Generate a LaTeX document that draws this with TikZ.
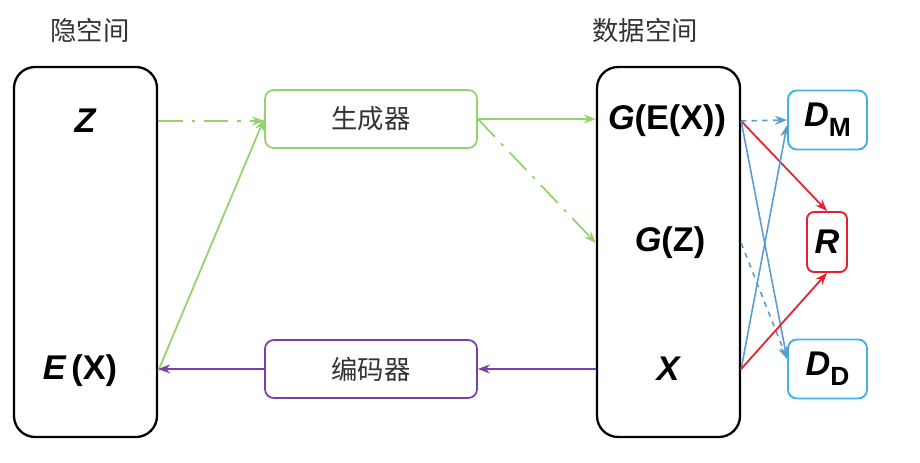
\documentclass[tikz,border=0pt]{standalone}
\usepackage{fontspec}
\setmainfont{Liberation Sans}
\newfontfamily\cjk{Noto Sans CJK SC}
\usepackage{xcolor}
\definecolor{cGreen}{HTML}{92D36E}
\definecolor{cPurple}{HTML}{7B3FA8}
\definecolor{cBlue}{HTML}{5A9BD0}
\definecolor{cCyan}{HTML}{3DB4E2}
\definecolor{cRed}{HTML}{E5212E}
\definecolor{cGray}{HTML}{333333}
\usetikzlibrary{positioning,arrows.meta,calc}
\tikzset{
  node-space/.style={draw=black,line width=1.3pt,rounded corners=12pt,
    minimum width=28.6mm,minimum height=74mm},
  node-box/.style={draw,line width=1pt,rounded corners=5pt,
    minimum height=11.6mm,minimum width=42.4mm,font=\cjk\fontsize{15}{17}\selectfont,
    text=cGray},
  node-d/.style={draw=cCyan,line width=1.1pt,rounded corners=5pt,
    minimum height=11.8mm,minimum width=15.8mm,inner sep=0pt},
  node-r/.style={draw=cRed,line width=1.1pt,rounded corners=4pt,
    minimum height=12mm,minimum width=8mm,inner sep=0pt},
  node-var/.style={font=\fontsize{19.5}{22}\selectfont\bfseries},
  node-head/.style={font=\cjk\fontsize{15}{17}\selectfont,text=cGray},
  % 绿: 生成器 / 紫: 编码器 / 蓝、红: 判别
  arrow-green/.style={-{Stealth[length=2.4mm]},line width=1pt,draw=cGreen},
  arrow-dashdot/.style={arrow-green,dash pattern=on 14pt off 5pt on 2pt off 5pt},
  arrow-purple/.style={-{Stealth[length=2.4mm]},line width=1pt,draw=cPurple},
  arrow-blue/.style={-{Stealth[length=2.4mm]},line width=0.9pt,draw=cBlue},
  arrow-red/.style={-{Stealth[length=2.4mm]},line width=1pt,draw=cRed},
}
\newcommand\ivar[1]{{\itshape #1}}
\newcommand\dsub[2]{\ivar{#1}\raisebox{-0.28em}{\fontsize{15}{15}\selectfont #2}}

\begin{document}
\begin{tikzpicture}
  \useasboundingbox (0,0) rectangle (18.4,9.24);
  % 两个空间
  \node[node-space] (latent) at (1.71,4.2) {};
  \node[node-space] (data) at (13.37,4.2) {};
  \node[node-head] (hl) at (1.8,8.64) {隐空间};
  \node[node-head] (hd) at (12.9,8.64) {数据空间};

  \node[node-var] (z) at (1.7,6.82) {\ivar{Z}};
  \node[node-var] (ex) at (1.6,1.82) {\ivar{E}\,(X)};
  \node[node-var] (gex) at (13.34,6.82) {\ivar{G}(E(X))};
  \node[node-var] (gz) at (13.4,4.38) {\ivar{G}(Z)};
  \node[node-var] (x) at (13.36,1.86) {\ivar{X}};

  \node[node-box,draw=cGreen] (gen) at (7.42,6.86) {生成器};
  \node[node-box,draw=cPurple] (enc) at (7.42,1.86) {编码器};

  \node[node-d,node-var] (dm) at (16.55,6.84) {\dsub{D}{M}};
  \node[node-r,node-var] (r) at (16.54,4.4) {\ivar{R}};
  \node[node-d,node-var] (dd) at (16.55,1.86) {\dsub{D}{D}};

  % 生成 / 编码
  \draw[arrow-dashdot] (z -| latent.east) -- (z -| gen.west);
  \draw[arrow-green] (ex -| latent.east) -- (gen.west);
  \draw[arrow-green] (gen.east) -- (gen.east -| data.west);
  \draw[arrow-dashdot] (gen.east) -- (gz -| data.west);
  \draw[arrow-purple] (x -| data.west) -- (enc.east);
  \draw[arrow-purple] (enc.west) -- (enc.west -| latent.east);

  % 判别
  \draw[arrow-blue,dashed] (gex -| data.east) -- (dm.west);
  \draw[arrow-red] (gex -| data.east) -- (r.north);
  \draw[arrow-blue] (gex -| data.east) -- ($(dd.west)+(0,0.2)$);
  \draw[arrow-blue,dashed] (gz -| data.east) -- ($(dd.west)+(0,0.2)$);
  \draw[arrow-blue] (x -| data.east) -- ($(dm.west)+(0,-0.1)$);
  \draw[arrow-red] (x -| data.east) -- (r.south);
\end{tikzpicture}
\end{document}
